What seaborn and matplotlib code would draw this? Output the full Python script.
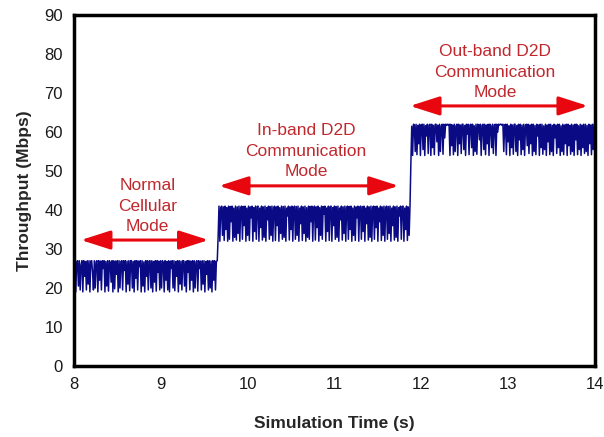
import numpy as np
import pandas as pd
import matplotlib
matplotlib.use("Agg")
import matplotlib.pyplot as plt
import seaborn as sns

# Throughput samples (Mbps) for each operating mode
cellular_mbps = [
    20, 27, 19, 26.5, 27, 20.5, 27, 19.5, 26, 27, 19, 27, 23, 26.8, 19.5, 27, 21, 27, 19, 26.9,
    27, 24, 19.5, 27, 20, 26.7, 27, 19, 27, 22, 26.9, 19.5, 27, 25, 27, 19, 26.8, 20.5, 27, 19.2,
    27, 26.5, 21.5, 27, 19, 27, 19.8, 26.9, 23.5, 27, 19, 27, 20, 26.8, 27, 19.5, 27, 24.5, 27, 19,
    26.9, 21, 27, 19.3, 27, 27, 20, 26.8, 19, 27, 22.5, 27, 19.5, 26.9, 25.5, 27, 19, 27, 20.5, 26.7,
    19, 27, 23, 27, 19.5, 26.9, 27, 20, 27, 19, 26.8, 21.5, 27, 19.2, 27, 24, 26.9, 19.5, 27, 20,
    27, 26.5, 19, 27, 22, 26.8, 19.5, 27, 19, 26.9, 25, 27, 20, 27, 19.3, 26.8, 23, 27, 19, 27,
    21, 26.9, 19.5, 27, 27, 20.5, 26.8, 19, 27, 24, 27, 19.5, 26.9, 22, 27, 19, 27, 20, 26.7, 27,
    19.2, 27, 25, 26.9, 19.5, 27, 21, 27, 19, 26.8, 23.5, 27, 19.5, 27, 20, 26.9, 19, 27, 22, 27,
    19.5, 26.8, 27,
]
inband_mbps = [
    33, 41, 32, 40.5, 41, 33.5, 40.8, 32.2, 41, 35, 40.6, 32, 41, 32.5, 40.9, 37, 41, 32, 40.5, 33,
    41, 32.3, 40.8, 34, 41, 32, 40.6, 41, 32.5, 40.9, 36, 41, 32, 40.5, 33.5, 41, 32.2, 40.8, 38, 41,
    32, 40.6, 34.5, 41, 32.5, 40.9, 41, 32, 40.5, 35.5, 41, 32.3, 40.8, 33, 41, 32, 40.6, 37.5, 41, 32.5,
    40.9, 33.5, 41, 32, 40.5, 41, 32.2, 40.8, 36, 41, 32, 40.6, 34, 41, 32.5, 40.9, 33, 41, 32, 40.5,
    38.5, 41, 32.3, 40.8, 35, 41, 32, 40.6, 41, 32.5, 40.9, 33.5, 41, 32, 40.5, 36.5, 41, 32.2, 40.8, 34,
    41, 32, 40.6, 33, 41, 32.5, 40.9, 37, 41, 32, 40.5, 41, 32.3, 40.8, 35.5, 41, 32, 40.6, 33.5, 41,
    32.5, 40.9, 39, 41, 32, 40.5, 34.5, 41, 32.2, 40.8, 41, 32, 40.6, 36, 41, 32.5, 40.9, 33, 41, 32,
    40.5, 37.5, 41, 32.3, 40.8, 34, 41, 32, 40.6, 41, 32.5, 40.9, 35, 41, 32, 40.5, 33.5, 41, 32.2, 40.8,
    38, 41, 32, 40.6, 41, 32.5, 40.9, 34.5, 41, 32, 40.5, 36.5, 41, 32.3, 40.8, 33, 41, 32, 40.6, 41,
    32.5, 40.9, 35.5, 41, 32, 40.5, 37, 41, 32.2, 40.8, 33.5, 41, 32, 40.6, 41, 32.5, 40.9, 34, 41, 32,
    40.5, 36, 41, 32.3, 40.8, 33, 41, 32, 40.6, 38.5, 41, 32.5, 40.9, 41, 32, 40.5, 35, 41, 32.2, 40.8,
    33.5, 41,
]
outband_mbps = [
    52, 61.5, 54, 62, 61.8, 55, 62, 54.2, 61.7, 57, 62, 54, 61.8, 62, 55.5, 62, 54, 61.6, 59, 62,
    54.5, 61.8, 62, 54, 62, 56, 61.7, 54.2, 62, 62, 57.5, 61.8, 54, 62, 55, 61.6, 62, 54.3, 62, 58.5,
    62, 61.8, 62, 61.7, 62, 54, 62, 56.5, 61.8, 54.2, 62, 55, 61.6, 62, 54, 62, 57, 61.8, 54.5, 62,
    62, 55.5, 61.7, 54, 62, 59.5, 62, 54.2, 61.8, 62, 56, 62, 54, 61.6, 55, 62, 54.3, 62, 61.8, 58,
    62, 54, 61.7, 62, 55.5, 62, 54.2, 61.8, 57, 62, 54, 62, 61.6, 56, 62, 54.5, 61.8, 62, 54, 62,
    60, 62, 61.8, 62, 62, 61.7, 62, 55, 61.8, 62, 54.2, 62, 57.5, 61.6, 54, 62, 56, 61.8, 54.3, 62,
    62, 55, 61.7, 54, 62, 58, 62, 54.2, 61.8, 55.5, 62, 54, 61.6, 62, 56.5, 62, 54.5, 61.8, 57, 62,
    54, 62, 55, 61.7, 54.2, 62, 59, 61.8, 54, 62, 56, 62, 54.3, 61.6, 55.5, 62, 54, 61.8, 57.5, 62,
    54.2, 62, 55, 61.7, 54, 62, 58.5, 61.8, 54.5, 62, 56, 62, 54, 61.6, 55, 62, 54.2, 61.8, 57, 62,
    54, 62, 56.5, 61.7, 54.3, 62, 55, 61.8, 54, 62, 58, 62, 54.2, 61.6, 55.5, 62, 54, 61.8, 56, 62,
    54.5, 62, 55, 61.7, 54, 62, 57, 61.8, 54.2, 62, 55.5, 62, 54,
]

# Mode switching instants (s)
mode_bounds = [8.0, 9.65, 11.87, 14.0]
mode_labels = ["Normal\nCellular\nMode", "In-band D2D\nCommunication\nMode",
               "Out-band D2D\nCommunication\nMode"]

x_ticks = [8, 9, 10, 11, 12, 13, 14]
y_ticks = [0, 10, 20, 30, 40, 50, 60, 70, 80, 90]

segments = [cellular_mbps, inband_mbps, outband_mbps]
times, values = [], []
for i, seg in enumerate(segments):
    t0 = mode_bounds[i] if i == 0 else mode_bounds[i] + 0.01
    times.extend(np.linspace(t0, mode_bounds[i + 1], len(seg)))
    values.extend(seg)
df = pd.DataFrame({"time": times, "throughput": values})

sns.set_style("white")
plt.rcParams["font.family"] = ["Liberation Sans", "DejaVu Sans"]

fig = plt.figure(figsize=(6.04, 4.37), dpi=100)
ax = fig.add_axes([0.1225, 0.1625, 0.8625, 0.803])

sns.lineplot(data=df, x="time", y="throughput", ax=ax, color="#0a0a85",
             linewidth=1.1, estimator=None, sort=False)

ax.set_xlim(8, 14)
ax.set_ylim(0, 90)
ax.set_xticks(x_ticks)
ax.set_yticks(y_ticks)
ax.tick_params(axis="both", direction="in", length=4, width=0.8, color="#999999",
               labelsize=12, pad=8, labelcolor="#1a1a1a")
for sp in ax.spines.values():
    sp.set_linewidth(2.5)
    sp.set_color("black")

ax.set_xlabel("Simulation Time (s)", fontsize=12.5, fontweight="bold", labelpad=17)
ax.set_ylabel("Throughput (Mbps)", fontsize=12.5, fontweight="bold", labelpad=9)

# Mode annotations: label text and double-headed arrow spanning each mode
text_color = "#c0282d"
arrow_color = "#e8070f"
label_pos = [(8.85, 41.0), (10.67, 55.1), (12.85, 75.3)]
arrow_spans = [(8.08, 9.55, 32.3), (9.67, 11.74, 46.2), (11.87, 13.92, 66.7)]
for (tx, ty), (xa, xb, ya), lab in zip(label_pos, arrow_spans, mode_labels):
    ax.text(tx, ty, lab, ha="center", va="center", fontsize=12.5, color=text_color,
            linespacing=1.45)
    ax.annotate("", xy=(xb, ya), xytext=(xa, ya),
                arrowprops=dict(arrowstyle="<|-|>,head_length=1.0,head_width=0.32",
                                color=arrow_color, lw=2.2, mutation_scale=18,
                                shrinkA=0, shrinkB=0))

fig.savefig("out.png", dpi=100)
